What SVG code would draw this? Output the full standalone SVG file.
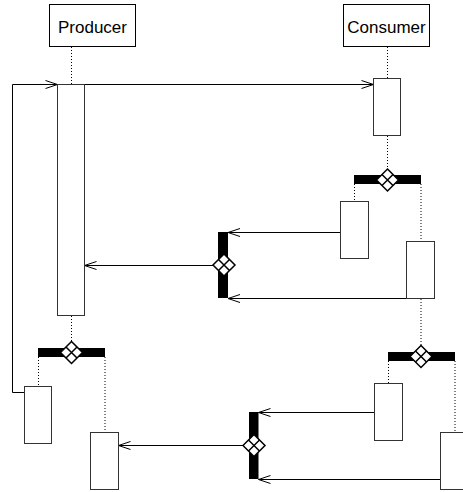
<svg xmlns="http://www.w3.org/2000/svg" xmlns:xlink="http://www.w3.org/1999/xlink" width="463" height="492" viewBox="0 0 463 492">
<style>
.box{fill:#fff;stroke:#000;stroke-width:1}
.act{fill:#fff;stroke:#333;stroke-width:1}
.bar{fill:#000;stroke:none}
.ln{fill:none;stroke:#000;stroke-width:1}
.dot{fill:none;stroke:#000;stroke-width:1;stroke-dasharray:1 2}
.lbl{font-family:"Liberation Sans",Arial,sans-serif;font-size:17px;fill:#000;text-anchor:middle}
</style>
<defs>
<marker id="arr" markerUnits="userSpaceOnUse" markerWidth="14" markerHeight="10" viewBox="0 0 14 10" refX="13" refY="5" orient="auto">
<path d="M1,1 L13,5 L1,9" fill="none" stroke="#000" stroke-width="1"/>
</marker>
<g id="gw">
<path d="M0,-11 L11,0 L0,11 L-11,0 Z" fill="#fff" stroke="#000" stroke-width="1.5"/>
<path d="M-5.5,-5.5 L5.5,5.5 M5.5,-5.5 L-5.5,5.5" stroke="#000" stroke-width="1.5"/>
</g>
</defs>
<rect width="463" height="492" fill="#fff"/>
<g id="connectors">
<line class="dot" x1="71.5" y1="47" x2="71.5" y2="84"/>
<line class="dot" x1="387.5" y1="47" x2="387.5" y2="78"/>
<line class="dot" x1="387.5" y1="136" x2="387.5" y2="172"/>
<line class="dot" x1="354.5" y1="184" x2="354.5" y2="201"/>
<line class="dot" x1="421" y1="184" x2="421" y2="241"/>
<line class="dot" x1="421" y1="299" x2="421" y2="348"/>
<line class="dot" x1="71.5" y1="316" x2="71.5" y2="344"/>
<line class="dot" x1="38.5" y1="357" x2="38.5" y2="386"/>
<line class="dot" x1="105" y1="357" x2="105" y2="432"/>
<line class="dot" x1="388.5" y1="361" x2="388.5" y2="383"/>
<line class="dot" x1="455" y1="361" x2="455" y2="432"/>
<line class="ln" x1="84.5" y1="84.5" x2="373.5" y2="84.5" marker-end="url(#arr)"/>
<polyline class="ln" points="24.5,392.5 12.5,392.5 12.5,84.5 57.5,84.5" marker-end="url(#arr)"/>
<line class="ln" x1="340.5" y1="232.5" x2="228" y2="232.5" marker-end="url(#arr)"/>
<line class="ln" x1="406.5" y1="298.5" x2="228" y2="298.5" marker-end="url(#arr)"/>
<line class="ln" x1="213" y1="265.5" x2="84.5" y2="265.5" marker-end="url(#arr)"/>
<line class="ln" x1="374.5" y1="412.5" x2="258.5" y2="412.5" marker-end="url(#arr)"/>
<line class="ln" x1="440.5" y1="479.5" x2="258.5" y2="479.5" marker-end="url(#arr)"/>
<line class="ln" x1="243" y1="445.5" x2="118.5" y2="445.5" marker-end="url(#arr)"/>
</g>
<g id="producer">
<rect class="box" x="49.5" y="4.5" width="86" height="42"/>
<text class="lbl" x="92.5" y="33">Producer</text>
</g>
<g id="consumer">
<rect class="box" x="343.5" y="4.5" width="86" height="42"/>
<text class="lbl" x="386.5" y="33">Consumer</text>
</g>
<g id="producer-activation"><rect class="act" x="57.5" y="84.5" width="27" height="231"/></g>
<g id="consumer-activation"><rect class="act" x="373.5" y="78.5" width="27" height="57"/></g>
<g id="fork-consumer-1">
<rect class="bar" x="354" y="175" width="67" height="9"/>
<use xlink:href="#gw" x="387.5" y="180"/>
</g>
<g id="consumer-act-a"><rect class="act" x="340.5" y="201.5" width="28" height="57"/></g>
<g id="consumer-act-b"><rect class="act" x="406.5" y="241.5" width="28" height="57"/></g>
<g id="join-1">
<rect class="bar" x="218" y="232" width="10" height="66"/>
<use xlink:href="#gw" x="224" y="265"/>
</g>
<g id="fork-producer">
<rect class="bar" x="38" y="348" width="67" height="9"/>
<use xlink:href="#gw" x="71.5" y="352.5"/>
</g>
<g id="producer-act-c"><rect class="act" x="24.5" y="386.5" width="27" height="57"/></g>
<g id="producer-act-d"><rect class="act" x="90.5" y="432.5" width="28" height="57"/></g>
<g id="fork-consumer-2">
<rect class="bar" x="388" y="352" width="67" height="9"/>
<use xlink:href="#gw" x="421" y="356.5"/>
</g>
<g id="consumer-act-e"><rect class="act" x="374.5" y="383.5" width="28" height="57"/></g>
<g id="consumer-act-f"><rect class="act" x="440.5" y="432.5" width="28" height="57"/></g>
<g id="join-2">
<rect class="bar" x="249" y="412" width="9.5" height="67"/>
<use xlink:href="#gw" x="254" y="445.5"/>
</g>
</svg>
